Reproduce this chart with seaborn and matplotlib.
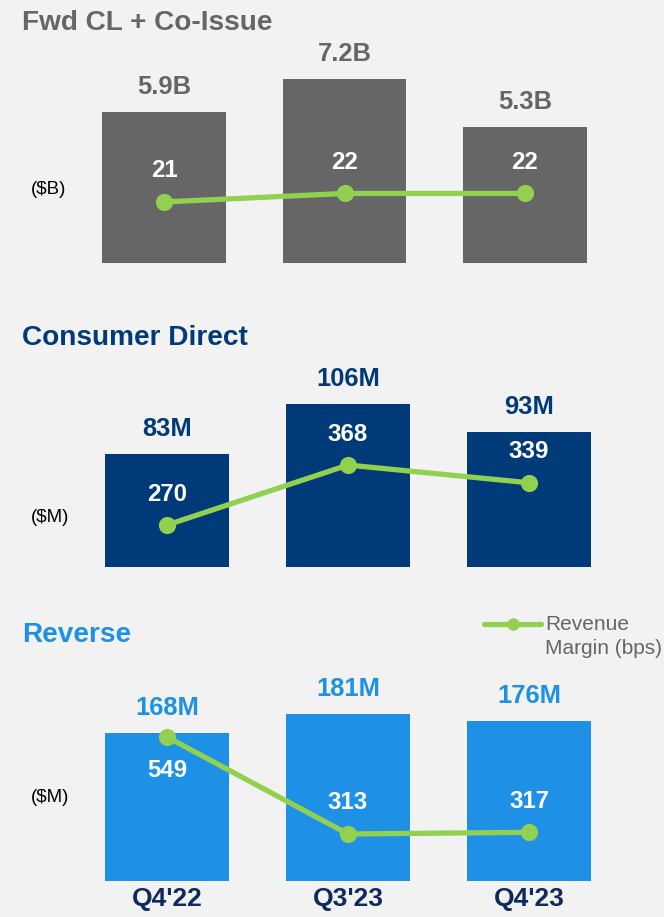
import matplotlib
matplotlib.use("Agg")
import matplotlib.pyplot as plt
from matplotlib.lines import Line2D
import seaborn as sns

# values
quarters = ["Q4'22", "Q3'23", "Q4'23"]
fwd_volume = [5.9, 7.2, 5.3]        # $B
fwd_margin = [21, 22, 22]           # bps
cd_volume = [83, 106, 93]           # $M
cd_margin = [270, 368, 339]         # bps
rev_volume = [168, 181, 176]        # $M
rev_margin = [549, 313, 317]        # bps

BG = "#F2F2F2"
GREEN = "#92D050"
GRAY = "#666666"
NAVY = "#003A78"
LIGHT_BLUE = "#1E91E6"
TICK_NAVY = "#0F2A5E"
W, H = 664, 917

sns.set_theme(style="white", rc={"axes.facecolor": BG, "figure.facecolor": BG})
plt.rcParams["font.family"] = ["Liberation Sans", "DejaVu Sans"]

fig = plt.figure(figsize=(W / 100, H / 100), dpi=100, facecolor=BG)


def px_axes(left, top, width, bottom):
    """Axes placed with pixel coordinates measured from the top-left corner."""
    return fig.add_axes([left / W, 1 - bottom / H, width / W, (bottom - top) / H])


def draw_panel(box, title, title_y, unit, unit_y, color, volume, margin, fmt,
               bar_lim, line_lim, line_dy, show_ticks=False):
    ax = px_axes(*box)
    sns.barplot(x=quarters, y=volume, color=color, saturation=1, width=0.685,
                linewidth=0, ax=ax)
    ax.set_ylim(*bar_lim)
    ax.set_xlim(-0.5, 2.5)

    for i, v in enumerate(volume):
        ax.annotate(fmt.format(v), xy=(i, v), xytext=(0, 25), textcoords="offset pixels",
                    ha="center", va="center", fontsize=18.4, fontweight="bold", color=color)

    ax2 = ax.twinx()
    sns.pointplot(x=quarters, y=margin, color=GREEN, markers="o", markersize=9.5,
                  linewidth=3.8, errorbar=None, ax=ax2)
    ax2.set_ylim(*line_lim)
    ax2.set_xlim(-0.5, 2.5)
    for i, (m, dy) in enumerate(zip(margin, line_dy)):
        ax2.annotate(f"{m}", xy=(i, m), xytext=(0, dy), textcoords="offset pixels",
                     ha="center", va="center", fontsize=17.3, fontweight="bold", color="white")
    ax2.set_axis_off()

    sns.despine(ax=ax, left=True, bottom=True)
    ax.set_yticks([])
    ax.set_xlabel("")
    ax.set_ylabel("")
    if show_ticks:
        ax.tick_params(axis="x", length=0, pad=4)
        for lbl in ax.get_xticklabels():
            lbl.set_fontsize(19)
            lbl.set_fontweight("bold")
            lbl.set_color(TICK_NAVY)
    else:
        ax.set_xticks([])

    fig.text(22 / W, 1 - title_y / H, title, ha="left", va="center",
             fontsize=20.2, fontweight="bold", color=color)
    fig.text(31 / W, 1 - unit_y / H, unit, ha="left", va="center",
             fontsize=13.5, color="black")


draw_panel((73.75, 40, 541.5, 263), "Fwd CL + Co-Issue", 23, "($B)", 190, GRAY,
           fwd_volume, fwd_margin, "{:.1f}B", (0, 8.71), (13.82, 40.05), [31, 31, 31])
draw_panel((76.5, 360, 543, 567), "Consumer Direct", 338, "($M)", 518, NAVY,
           cd_volume, cd_margin, "{:.0f}M", (31, 126.2), (201.4, 539.6), [31, 31, 31])
draw_panel((76.5, 660, 543, 881), "Reverse", 635, "($M)", 797, LIGHT_BLUE,
           rev_volume, rev_margin, "{:.0f}M", (66.7, 217.9), (198.6, 736.3), [-34, 31, 31],
           show_ticks=True)

# legend for the margin line
fig.add_artist(Line2D([484 / W, 541 / W], [1 - 624 / H] * 2, transform=fig.transFigure,
                      color=GREEN, lw=3.8))
fig.add_artist(Line2D([513 / W], [1 - 624 / H], transform=fig.transFigure,
                      color=GREEN, marker="o", markersize=8))
fig.text(545 / W, 1 - 624 / H, "Revenue", ha="left", va="center", fontsize=15, color=GRAY)
fig.text(545 / W, 1 - 648 / H, "Margin (bps)", ha="left", va="center", fontsize=15, color=GRAY)

fig.savefig("out.png", dpi=100, facecolor=BG)
